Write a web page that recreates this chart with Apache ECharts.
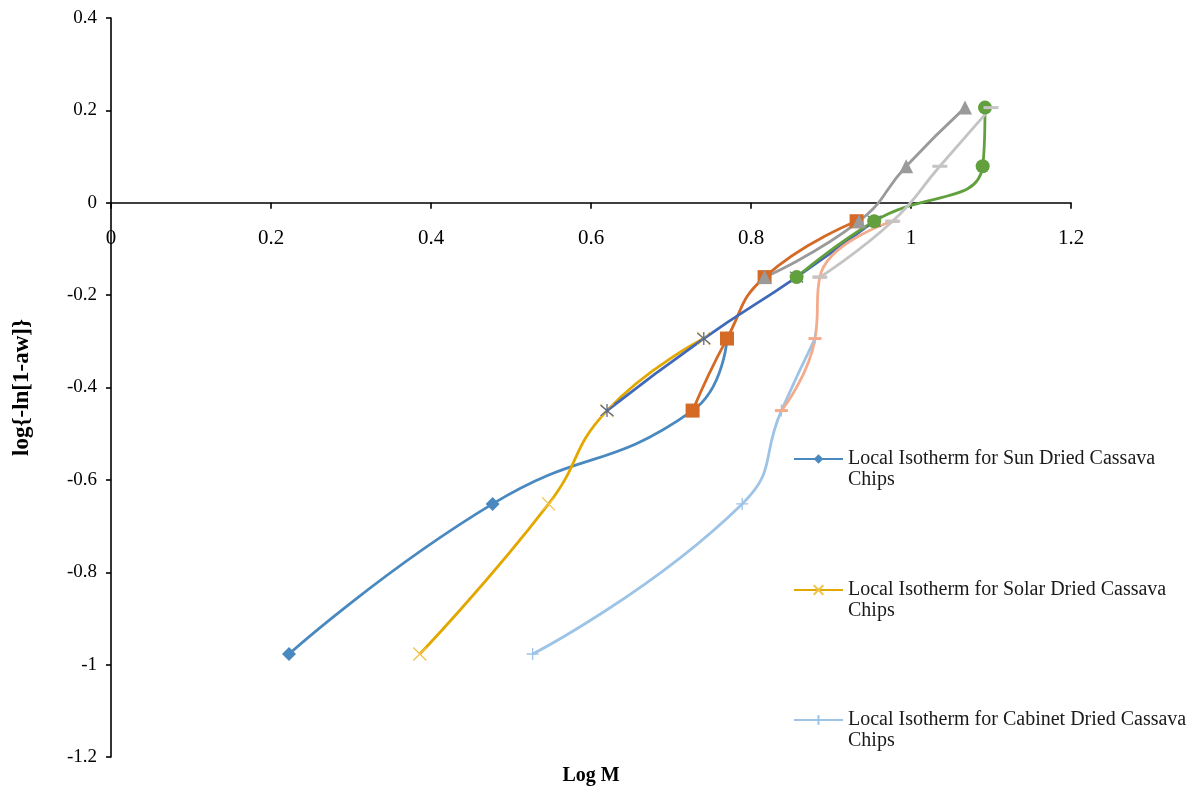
<!DOCTYPE html>
<html>
<head>
<meta charset="utf-8">
<script src="https://cdn.jsdelivr.net/npm/echarts@6/dist/echarts.min.js"></script>
<style>
html,body{margin:0;padding:0;background:#fff;}
#chart{width:1198px;height:792px;}
</style>
</head>
<body>
<div id="chart"></div>
<script>
// ---- Data ----
var sunLowX   = [0.2225, 0.477, 0.727, 0.770];
var sunLowY   = [-0.977, -0.652, -0.450, -0.294];
var sunMidX   = [0.727, 0.770, 0.817, 0.932];
var sunMidY   = [-0.450, -0.294, -0.161, -0.040];
var sunHighX  = [0.817, 0.935, 0.994, 1.0675];
var sunHighY  = [-0.161, -0.040, 0.079, 0.206];

var solarLowX  = [0.386, 0.547, 0.620, 0.741];
var solarLowY  = [-0.977, -0.652, -0.450, -0.294];
var solarMidX  = [0.620, 0.741, 0.857, 0.954];
var solarMidY  = [-0.450, -0.294, -0.161, -0.040];
var solarHighX = [0.857, 0.954, 1.0896, 1.0925];
var solarHighY = [-0.161, -0.040, 0.079, 0.206];

var cabLowX  = [0.527, 0.789, 0.838, 0.880];
var cabLowY  = [-0.977, -0.652, -0.450, -0.294];
var cabMidX  = [0.838, 0.880, 0.886, 0.977];
var cabMidY  = [-0.450, -0.294, -0.161, -0.040];
var cabHighX = [0.886, 0.977, 1.036, 1.100];
var cabHighY = [-0.161, -0.040, 0.079, 0.206];

var legendNames = [
  'Local Isotherm for Sun Dried Cassava Chips',
  'Local Isotherm for Solar Dried Cassava Chips',
  'Local Isotherm for Cabinet Dried Cassava Chips'
];
var xTitle = 'Log M';
var yTitle = 'log{-ln[1-aw]}';

function pairs(xs, ys){ return xs.map(function(x,i){ return [x, ys[i]]; }); }

var FONT = '"Liberation Serif", "Times New Roman", serif';
var XSYM = 'path://M0,0L10,10M10,0L0,10';
var ASTSYM = 'path://M0,0L10,10M10,0L0,10M5,-1L5,11';
var PLUSSYM = 'path://M5,0L5,10M0,5L10,5';

function mk(name, xs, ys, color, symbol, size, strokeOnly){
  var s = {
    name: name, type: 'line', data: pairs(xs, ys),
    smooth: 0.5,
    showAllSymbol: true,
    symbol: symbol, symbolSize: size,
    lineStyle: {color: color, width: 2.8},
    itemStyle: {color: color},
    emphasis: {disabled: true},
    animation: false
  };
  if (strokeOnly){
    s.itemStyle = {color: 'none', borderColor: strokeOnly, borderWidth: 1.3};
  }
  return s;
}

var series = [
  mk(legendNames[0], sunLowX, sunLowY, '#4a89c0', 'diamond', 14),
  mk('Sun Dried (mid)', sunMidX, sunMidY, '#d56a26', 'rect', 14),
  mk('Sun Dried (high)', sunHighX, sunHighY, '#9a9a9a', 'triangle', 14),
  mk(legendNames[1], solarLowX, solarLowY, '#e3a800', XSYM, 13, '#f2c34a'),
  mk('Solar Dried (mid)', solarMidX, solarMidY, '#4068b8', ASTSYM, 13, '#5a6a8a'),
  mk('Solar Dried (high)', solarHighX, solarHighY, '#62a03e', 'circle', 14),
  mk(legendNames[2], cabLowX, cabLowY, '#9dc3e6', PLUSSYM, 12, '#9dc3e6'),
  mk('Cabinet Dried (mid)', cabMidX, cabMidY, '#f4ab8c', 'rect', [13, 3]),
  mk('Cabinet Dried (high)', cabHighX, cabHighY, '#c4c4c4', 'rect', [15, 3])
];

var legendTops = [444, 575, 705];
var legends = legendNames.map(function(n, i){
  return {
    data: [n], left: 788, top: legendTops[i], orient: 'vertical',
    itemWidth: 49, itemHeight: 12, itemGap: 6,
    formatter: function(name){ return name.replace(/ Chips$/, ''); },
    textStyle: {fontFamily: FONT, fontSize: 20, color: '#1a1a1a'},
    selectedMode: false
  };
});

var chart = echarts.init(document.getElementById('chart'), null, {renderer: 'canvas'});
chart.setOption({
  backgroundColor: '#fff',
  animation: false,
  grid: {left: 111, right: 127, top: 18, bottom: 35, containLabel: false, outerBoundsMode: 'none'},
  legend: legends,
  xAxis: {
    type: 'value', min: 0, max: 1.2, interval: 0.2,
    offset: -554.25,
    name: xTitle, nameLocation: 'middle', nameGap: 563,
    nameTextStyle: {fontFamily: FONT, fontSize: 20, fontWeight: 'bold', color: '#000'},
    axisLine: {onZero: false, lineStyle: {color: '#000', width: 1.6}},
    axisTick: {show: true, length: 6, lineStyle: {color: '#000', width: 1.6}},
    axisLabel: {fontFamily: FONT, fontSize: 21, color: '#000', margin: 25},
    splitLine: {show: false}
  },
  yAxis: {
    type: 'value', min: -1.2, max: 0.4, interval: 0.2,
    name: yTitle, nameLocation: 'middle', nameGap: 77, nameRotate: 90,
    nameTextStyle: {fontFamily: FONT, fontSize: 23, fontWeight: 'bold', color: '#000'},
    axisLine: {onZero: false, lineStyle: {color: '#000', width: 1.6}},
    axisTick: {show: true, length: 5, lineStyle: {color: '#000', width: 1.6}},
    axisLabel: {fontFamily: FONT, fontSize: 19, color: '#000', margin: 14},
    splitLine: {show: false}
  },
  graphic: [
    {type: 'text', left: 848, top: 470, style: {text: 'Chips', font: '20px ' + FONT, fill: '#1a1a1a'}},
    {type: 'text', left: 848, top: 601, style: {text: 'Chips', font: '20px ' + FONT, fill: '#1a1a1a'}},
    {type: 'text', left: 848, top: 731, style: {text: 'Chips', font: '20px ' + FONT, fill: '#1a1a1a'}}
  ],
  series: series
});
</script>
</body>
</html>
